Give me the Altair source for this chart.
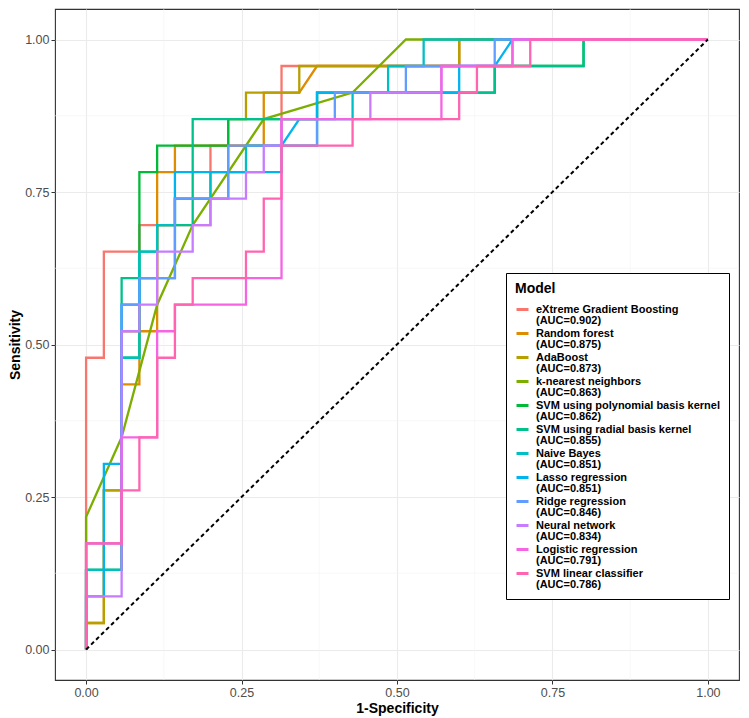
import altair as alt
import pandas as pd

# ROC steps, in counts of negatives (35) and positives (23)
N_NEG = 35
N_POS = 23

MODELS = [
    "eXtreme Gradient Boosting", "Random forest", "AdaBoost", "k-nearest neighbors",
    "SVM using polynomial basis kernel", "SVM using radial basis kernel", "Naive Bayes",
    "Lasso regression", "Ridge regression", "Neural network", "Logistic regression",
    "SVM linear classifier",
]
AUC = ["0.902", "0.875", "0.873", "0.863", "0.862", "0.855", "0.851", "0.851",
       "0.846", "0.834", "0.791", "0.786"]
COLORS = ["#F8766D", "#DE8C00", "#B79F00", "#7CAE00", "#00BA38", "#00C08B",
          "#00BFC4", "#00B4F0", "#619CFF", "#C77CFF", "#F564E3", "#FF64B0"]

xgb = [(0, 0), (0, 11), (1, 11), (1, 15), (3, 15), (3, 16), (7, 16), (7, 19), (11, 19),
       (11, 22), (21, 22), (21, 23), (35, 23)]
rf = [(0, 0), (0, 1), (1, 1), (1, 6), (2, 6), (2, 10), (3, 10), (3, 12), (4, 12), (4, 18),
      (5, 18), (5, 19), (10, 19), (10, 21), (12, 21), (13, 22), (21, 22), (21, 23), (35, 23)]
ada = [(0, 0), (0, 1), (1, 1), (1, 6), (2, 6), (2, 12), (3, 12), (3, 14), (4, 14), (4, 16),
       (5, 16), (5, 17), (8, 17), (8, 20), (9, 20), (9, 21), (12, 21), (12, 22), (21, 22),
       (21, 23), (35, 23)]
knn = [(0, 0), (0, 5), (2, 8), (4, 13), (6, 16), (10, 20), (15, 21), (18, 23), (35, 23)]
svm_poly = [(0, 0), (0, 3), (2, 3), (2, 11), (3, 11), (3, 18), (4, 18), (4, 19), (8, 19),
            (8, 20), (13, 20), (13, 21), (22, 21), (23, 21), (23, 22), (28, 22),
            (28, 23), (35, 23)]
svm_rad = [(0, 0), (0, 3), (2, 3), (2, 14), (3, 14), (3, 15), (4, 15), (4, 16), (6, 16),
           (6, 20), (13, 20), (13, 21), (23, 21), (23, 22), (28, 22), (28, 23), (35, 23)]
nb = [(0, 0), (0, 3), (2, 3), (2, 11), (3, 11), (3, 15), (4, 15), (4, 16), (5, 16), (5, 17),
      (7, 17), (7, 18), (9, 18), (9, 19), (13, 19), (13, 20), (15, 20), (15, 21), (17, 21),
      (17, 22), (19, 22), (19, 23), (35, 23)]
lasso = [(0, 0), (0, 2), (1, 2), (1, 7), (2, 7), (2, 13), (3, 13), (3, 14), (5, 14), (5, 18),
         (11, 18), (11, 19), (12, 20), (13, 20), (13, 21), (21, 21), (21, 22), (23, 22),
         (24, 23), (35, 23)]
ridge = [(0, 0), (0, 4), (2, 4), (2, 13), (3, 13), (3, 14), (5, 14), (5, 17), (8, 17),
         (8, 19), (13, 19), (13, 20), (14, 20), (14, 21), (18, 21), (18, 22), (23, 22),
         (23, 23), (35, 23)]
nn = [(0, 0), (0, 2), (2, 2), (2, 12), (3, 12), (3, 13), (4, 13), (4, 15), (6, 15), (6, 16),
      (7, 16), (7, 17), (9, 17), (9, 18), (10, 18), (10, 19), (11, 19), (11, 20), (16, 20),
      (16, 21), (20, 21), (20, 22), (24, 22), (24, 23), (35, 23)]
logit = [(0, 0), (0, 4), (2, 4), (2, 8), (4, 8), (4, 12), (5, 12), (5, 13), (9, 13), (9, 14),
         (11, 14), (11, 20), (20, 20), (20, 22), (24, 22), (24, 23), (35, 23)]
svm_lin = [(0, 0), (0, 4), (2, 4), (2, 6), (3, 6), (3, 8), (4, 8), (4, 11), (5, 11), (5, 13),
           (6, 13), (6, 14), (9, 14), (9, 15), (10, 15), (10, 17), (11, 17), (11, 19),
           (15, 19), (15, 20), (21, 20), (21, 21), (22, 21), (22, 22), (25, 22), (25, 23),
           (35, 23)]

CURVES = [xgb, rf, ada, knn, svm_poly, svm_rad, nb, lasso, ridge, nn, logit, svm_lin]

MAJOR = [0, 0.25, 0.5, 0.75, 1]
MINOR = [0.125, 0.375, 0.625, 0.875]

labels = [f"{m}|(AUC={a})" for m, a in zip(MODELS, AUC)]
rows = []
for lab, pts in zip(labels, CURVES):
    for s, (fp, tp) in enumerate(pts):
        rows.append({"model": lab, "step": s, "fpr": fp / N_NEG, "tpr": tp / N_POS})
df = pd.DataFrame(rows)

xs = alt.Scale(domain=[-0.05, 1.05], nice=False, zero=False)
ys = alt.Scale(domain=[-0.05, 1.05], nice=False, zero=False)
axis_common = dict(values=MAJOR, format=".2f", labelFont="Liberation Sans",
                   labelFontSize=12.5, labelColor="#4D4D4D", tickColor="#333333",
                   tickSize=4, domain=False, grid=True, gridColor="#EBEBEB", gridWidth=1.1,
                   titleFont="Liberation Sans", titleFontSize=14, titleFontWeight="bold",
                   titleColor="#000000", labelPadding=2)
xaxis = alt.Axis(title="1-Specificity", titlePadding=3, **axis_common)
yaxis = alt.Axis(title="Sensitivity", titlePadding=2, **axis_common)

X = alt.X("fpr:Q", scale=xs, axis=xaxis)
Y = alt.Y("tpr:Q", scale=ys, axis=yaxis)

minor_x = alt.Chart(pd.DataFrame({"fpr": MINOR})).mark_rule(
    color="#F3F3F3", strokeWidth=0.6).encode(x=X)
minor_y = alt.Chart(pd.DataFrame({"tpr": MINOR})).mark_rule(
    color="#F3F3F3", strokeWidth=0.6).encode(y=Y)

curves = alt.Chart(df).mark_line(strokeWidth=2.3, strokeJoin="miter").encode(
    x=X,
    y=Y,
    order=alt.Order("step:Q"),
    color=alt.Color(
        "model:N",
        scale=alt.Scale(domain=labels, range=COLORS),
        sort=labels,
        legend=alt.Legend(
            title="Model", orient="none", legendX=451, legendY=264,
            labelExpr="split(datum.label, '|')",
            titleFont="Liberation Sans", titleFontSize=14, titleFontWeight="bold",
            titleColor="#000000", titlePadding=6,
            labelFont="Liberation Sans", labelFontSize=11, labelFontWeight="bold",
            labelColor="#000000", labelLimit=400, labelOffset=6,
            symbolType="stroke", symbolSize=144, symbolStrokeWidth=3,
            rowPadding=0, padding=9, strokeColor="#000000", fillColor="#FFFFFF",
            cornerRadius=0,
        ),
    ),
)

diag = alt.Chart(pd.DataFrame({"fpr": [0, 1], "tpr": [0, 1]})).mark_line(
    color="#000000", strokeDash=[4, 3], strokeWidth=2).encode(x=X, y=Y)

chart = (
    alt.layer(minor_x, minor_y, curves, diag)
    .properties(width=684, height=671,
                padding={"left": 0, "top": 0, "right": 0, "bottom": 0})
    .configure(
        background="#FFFFFF",
        view=alt.ViewConfig(stroke="#333333", strokeWidth=1.1),
        style={"guide-label": {"lineHeight": 11.4}},
    )
)

chart.save("out.html", embed_options={"renderer": "svg", "actions": False})
